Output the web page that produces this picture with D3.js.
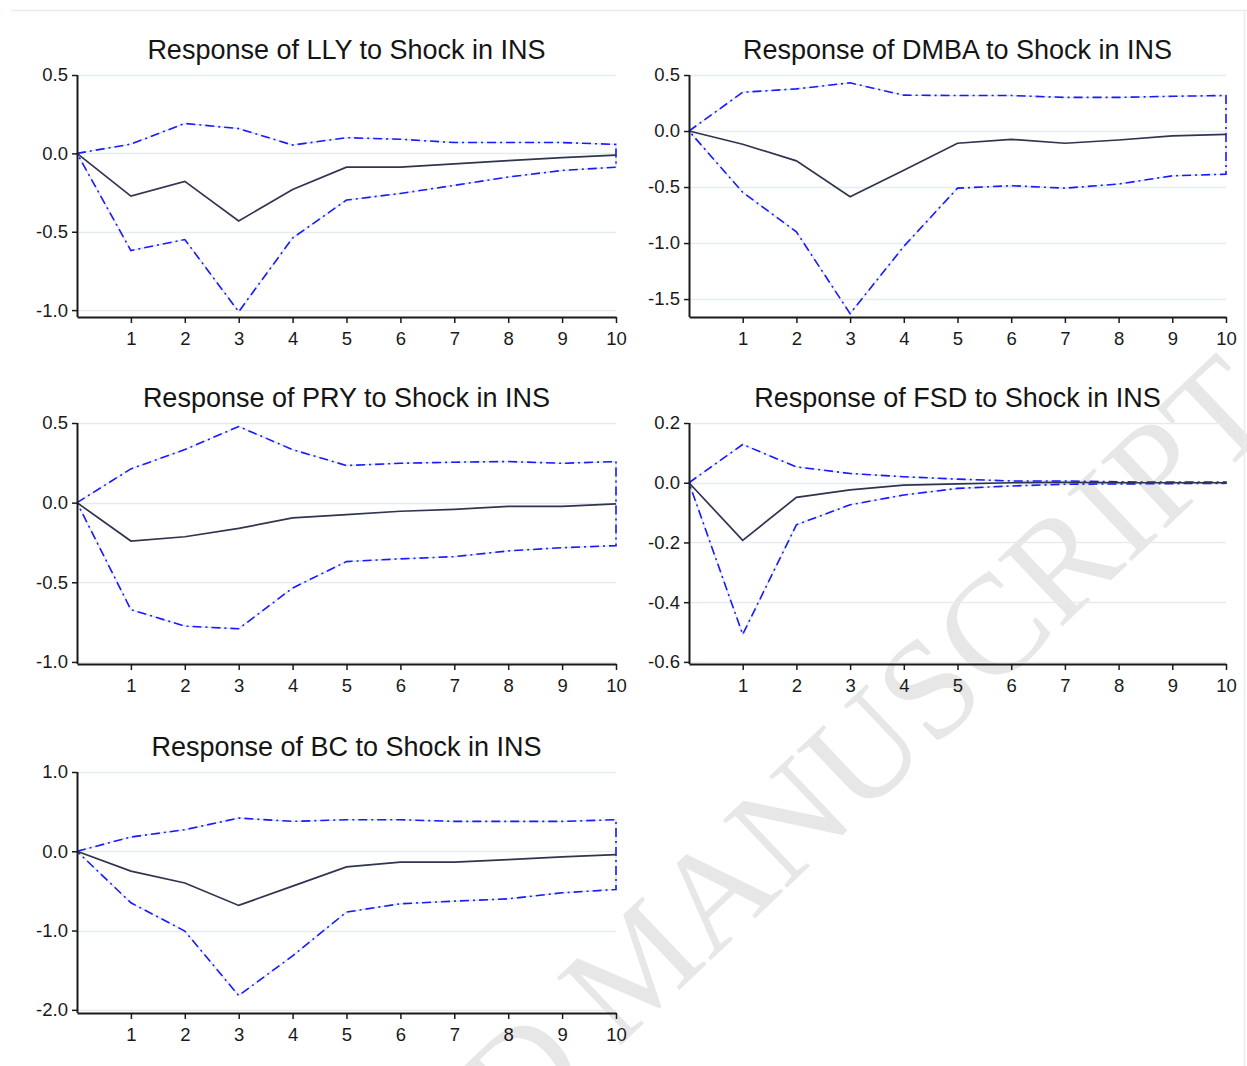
<!DOCTYPE html>
<html>
<head>
<meta charset="utf-8">
<script src="https://cdn.jsdelivr.net/npm/d3@7"></script>
<style>
  html, body { margin: 0; padding: 0; background: #ffffff; }
  svg { display: block; }
</style>
</head>
<body>
<svg id="chart" width="1247" height="1066"></svg>
<script>
// Impulse responses to a shock in INS, periods 0..10, with confidence bands
const periods = [0, 1, 2, 3, 4, 5, 6, 7, 8, 9, 10];
const xTicks = [1, 2, 3, 4, 5, 6, 7, 8, 9, 10];

const titles = [
  "Response of LLY to Shock in INS",
  "Response of DMBA to Shock in INS",
  "Response of PRY to Shock in INS",
  "Response of FSD to Shock in INS",
  "Response of BC to Shock in INS"
];

const llyResp  = [0, -0.273, -0.179, -0.431, -0.231, -0.088, -0.088, -0.067, -0.046, -0.027, -0.011];
const llyUpper = [0, 0.059, 0.191, 0.158, 0.053, 0.100, 0.090, 0.069, 0.069, 0.069, 0.057];
const llyLower = [0, -0.620, -0.550, -1.010, -0.540, -0.298, -0.256, -0.204, -0.151, -0.109, -0.088];

const dmbaResp  = [0, -0.118, -0.266, -0.586, -0.350, -0.109, -0.074, -0.109, -0.080, -0.044, -0.030];
const dmbaUpper = [0, 0.346, 0.376, 0.430, 0.320, 0.317, 0.317, 0.300, 0.300, 0.310, 0.317];
const dmbaLower = [0, -0.547, -0.900, -1.630, -1.030, -0.510, -0.488, -0.510, -0.473, -0.400, -0.385];

const pryResp  = [0, -0.241, -0.214, -0.162, -0.096, -0.075, -0.054, -0.042, -0.023, -0.023, -0.008];
const pryUpper = [0, 0.212, 0.333, 0.478, 0.333, 0.233, 0.247, 0.254, 0.258, 0.247, 0.258];
const pryLower = [0, -0.672, -0.775, -0.792, -0.536, -0.370, -0.353, -0.339, -0.303, -0.283, -0.270];

const fsdResp  = [0, -0.193, -0.049, -0.024, -0.008, -0.004, 0.000, 0.001, 0.000, 0.000, 0.000];
const fsdUpper = [0, 0.128, 0.053, 0.031, 0.020, 0.012, 0.006, 0.006, 0.003, 0.002, 0.002];
const fsdLower = [0, -0.508, -0.141, -0.074, -0.041, -0.019, -0.011, -0.005, -0.004, -0.003, -0.002];

const bcResp  = [0, -0.250, -0.400, -0.683, -0.440, -0.197, -0.138, -0.138, -0.105, -0.071, -0.042];
const bcUpper = [0, 0.180, 0.272, 0.419, 0.377, 0.398, 0.398, 0.377, 0.377, 0.377, 0.398];
const bcLower = [0, -0.650, -1.006, -1.820, -1.320, -0.767, -0.662, -0.629, -0.600, -0.524, -0.482];

const llyTicks  = [0.5, 0.0, -0.5, -1.0];
const dmbaTicks = [0.5, 0.0, -0.5, -1.0, -1.5];
const pryTicks  = [0.5, 0.0, -0.5, -1.0];
const fsdTicks  = [0.2, 0.0, -0.2, -0.4, -0.6];
const bcTicks   = [1.0, 0.0, -1.0, -2.0];

const llyDomain  = [-1.044, 0.5];
const dmbaDomain = [-1.66, 0.5];
const pryDomain  = [-1.013, 0.5];
const fsdDomain  = [-0.607, 0.2];
const bcDomain   = [-2.04, 1.0];

const panels = [
  { title: titles[0], resp: llyResp,  upper: llyUpper,  lower: llyLower,  ticks: llyTicks,  domain: llyDomain,  col: 0, row: 0 },
  { title: titles[1], resp: dmbaResp, upper: dmbaUpper, lower: dmbaLower, ticks: dmbaTicks, domain: dmbaDomain, col: 1, row: 0 },
  { title: titles[2], resp: pryResp,  upper: pryUpper,  lower: pryLower,  ticks: pryTicks,  domain: pryDomain,  col: 0, row: 1 },
  { title: titles[3], resp: fsdResp,  upper: fsdUpper,  lower: fsdLower,  ticks: fsdTicks,  domain: fsdDomain,  col: 1, row: 1 },
  { title: titles[4], resp: bcResp,   upper: bcUpper,   lower: bcLower,   ticks: bcTicks,   domain: bcDomain,   col: 0, row: 2 }
];

const colX = [[77, 616], [689, 1226]];
const rowY = [[75, 317], [423, 664], [772, 1013]];

const svg = d3.select("#chart");
const font = "'Liberation Sans', Arial, sans-serif";
// plain hyphen-minus for negative tick labels
const fmt1 = d => d.toFixed(1);

// watermark behind the plots
svg.append("text")
  .attr("transform", "translate(1282,418) rotate(-43.5)")
  .attr("text-anchor", "end")
  .attr("font-family", "'Liberation Serif', 'Times New Roman', serif")
  .attr("font-size", 142)
  .attr("fill", "#e7e7e7")
  .text("ACCEPTED MANUSCRIPT");

// page frame lines
svg.append("line").attr("x1", 11).attr("x2", 1247).attr("y1", 10.5).attr("y2", 10.5)
  .attr("stroke", "#e6eef0").attr("stroke-width", 1.5);
svg.append("line").attr("x1", 1244.5).attr("x2", 1244.5).attr("y1", 10).attr("y2", 1066)
  .attr("stroke", "#e6eef0").attr("stroke-width", 1.5);

panels.forEach(p => {
  const [x0, x1] = colX[p.col];
  const [y0, y1] = rowY[p.row];
  const x = d3.scaleLinear().domain([0, 10]).range([x0, x1]);
  const y = d3.scaleLinear().domain(p.domain).range([y1, y0]);
  const g = svg.append("g");

  // title
  g.append("text")
    .attr("x", (x0 + x1) / 2).attr("y", y0 - 16)
    .attr("text-anchor", "middle")
    .attr("font-family", font).attr("font-size", 27)
    .attr("fill", "#151515")
    .text(p.title);

  // horizontal gridlines
  g.selectAll("line.grid").data(p.ticks).enter().append("line")
    .attr("class", "grid")
    .attr("x1", x0).attr("x2", x1)
    .attr("y1", d => Math.round(y(d)) + 0.5).attr("y2", d => Math.round(y(d)) + 0.5)
    .attr("stroke", "#e3ecee").attr("stroke-width", 1.5);

  const pts = (arr) => periods.map((t, i) => [x(t), y(arr[i])]);
  const line = d3.line();

  // confidence band as closed outline: upper forward, lower backward
  const band = pts(p.upper).concat(pts(p.lower).reverse());
  band.push(band[0]);
  g.append("path").attr("d", line(band))
    .attr("fill", "none").attr("stroke", "#dde8ee").attr("stroke-width", 1.5);
  g.append("path").attr("d", line(band))
    .attr("fill", "none").attr("stroke", "#1a1aff").attr("stroke-width", 1.6)
    .attr("stroke-dasharray", "9,4,2,4");

  // response
  g.append("path").attr("d", line(pts(p.resp)))
    .attr("fill", "none").attr("stroke", "#30344f").attr("stroke-width", 1.7);

  // axes
  const yAxis = d3.axisLeft(y).tickValues(p.ticks).tickFormat(fmt1)
    .tickSizeInner(5).tickSizeOuter(0).tickPadding(4);
  const gy = g.append("g").attr("transform", `translate(${x0},0)`).call(yAxis);
  gy.select(".domain").attr("d", `M0.5,${y0}V${y1}`);

  const xAxis = d3.axisBottom(x).tickValues(xTicks).tickFormat(d3.format("d"))
    .tickSizeInner(6).tickSizeOuter(0).tickPadding(9);
  const gx = g.append("g").attr("transform", `translate(0,${y1})`).call(xAxis);

  [gx, gy].forEach(a => {
    a.select(".domain").attr("stroke", "#1a1a1a").attr("stroke-width", 2);
    a.selectAll(".tick line").attr("stroke", "#1a1a1a").attr("stroke-width", 1.5);
    a.selectAll(".tick text").attr("font-family", font).attr("font-size", 18.5).attr("fill", "#1a1a1a");
  });
});
</script>
</body>
</html>
